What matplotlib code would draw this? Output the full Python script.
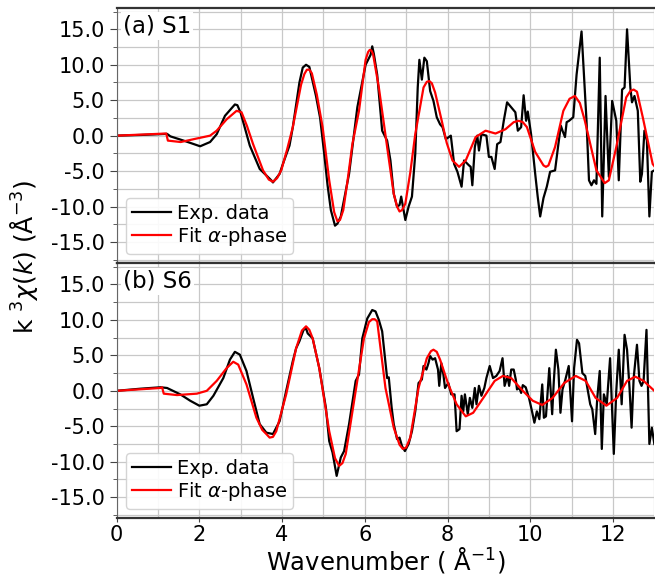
"""
k^3-weighted EXAFS chi(k) for S1 and S6 with alpha-phase fits.
Values read off the reference figure.
"""

import matplotlib
matplotlib.use("Agg")
import matplotlib.pyplot as plt
from matplotlib.ticker import MultipleLocator, FormatStrFormatter

plt.rcParams["font.family"] = ["DejaVu Sans"]
plt.rcParams["axes.unicode_minus"] = False

# ─────────────────────────────────────────────
# (a) S1 - experimental
k_s1_exp = [0, 0.6, 1.22, 1.3, 1.62, 2.02, 2.26, 2.42, 2.62, 2.86, 2.92, 3.0,
            3.22, 3.46, 3.74, 3.78, 3.94, 4.02, 4.18, 4.26, 4.42, 4.5, 4.58,
            4.66, 4.82, 4.92, 5.02, 5.1, 5.18, 5.28, 5.34, 5.42, 5.62, 5.82,
            6.02, 6.14, 6.18, 6.22, 6.3, 6.42, 6.54, 6.62, 6.7, 6.78, 6.84,
            6.88, 6.98, 7.06, 7.14, 7.22, 7.28, 7.32, 7.38, 7.44, 7.5, 7.58,
            7.66, 7.74, 7.82, 7.88, 7.96, 8.08, 8.16, 8.24, 8.34, 8.4, 8.52,
            8.56, 8.6, 8.66, 8.72, 8.76, 8.82, 8.94, 9.0, 9.06, 9.14, 9.2,
            9.28, 9.36, 9.44, 9.54, 9.64, 9.7, 9.78, 9.84, 9.9, 9.94, 10.02,
            10.12, 10.18, 10.24, 10.32, 10.4, 10.48, 10.6, 10.68, 10.74,
            10.78, 10.84, 10.88, 10.94, 11.04, 11.12, 11.24, 11.36, 11.42,
            11.48, 11.54, 11.6, 11.68, 11.74, 11.82, 11.9, 11.98, 12.08,
            12.14, 12.22, 12.28, 12.34, 12.42, 12.46, 12.52, 12.6, 12.66,
            12.7, 12.76, 12.82, 12.88, 12.94, 13.0]
chi_s1_exp = [0, 0.1, 0.25, -0.1, -0.7, -1.5, -0.9, 0.2, 2.8, 4.4, 4.3, 3.2,
              -1.4, -4.7, -6.3, -6.6, -5.4, -4.0, -1.4, 1.2, 7.5, 9.6, 10.0,
              9.7, 5.6, 2.5, -2.6, -7.0, -10.5, -12.7, -12.4, -11.4, -5.4, 4.0,
              10.0, 11.4, 12.6, 11.5, 8.6, 0.7, -0.7, -3.5, -8.2, -10.0, -9.8,
              -8.6, -11.9, -10.0, -8.6, -2.6, 6.8, 10.7, 7.9, 11.0, 10.5, 6.3,
              4.9, 2.6, 1.6, 1.2, -0.5, 0.0, -4.0, -5.1, -7.2, -3.5, -4.2,
              -4.4, -7.0, -1.6, 0.0, -2.1, 0.2, 0.0, -3.0, -3.0, -4.7, -1.2,
              -0.9, 2.1, 4.7, 4.0, 3.3, 0.7, 1.2, 5.7, 2.1, 3.4, 0.2,
              -5.4, -8.6, -11.4, -8.8, -7.2, -5.1, -4.9, -1.2, 1.4,
              0.7, -0.2, 1.9, 2.1, 2.6, 8.6, 14.7, 2.1, -6.3,
              -7.0, -6.3, -6.8, 11.0, -11.4, 5.6, -5.8, 4.9, 2.1,
              -6.3, 6.5, 6.8, 15.0, 6.8, 4.7, 5.6, 3.5, -6.5,
              -5.4, 0.7, -0.7, -11.4, -5.1, -4.9]

# (a) S1 - alpha-phase fit
k_s1_fit = [0, 1.2, 1.24, 1.55, 1.94, 2.26, 2.42, 2.66, 2.9, 3.02, 3.15, 3.3,
            3.54, 3.68, 3.78, 3.88, 3.98, 4.12, 4.26, 4.46, 4.54, 4.6, 4.66,
            4.72, 4.84, 4.98, 5.14, 5.26, 5.34, 5.4, 5.48, 5.58, 5.7, 5.86,
            6.02, 6.08, 6.12, 6.16, 6.2, 6.34, 6.54, 6.7, 6.78, 6.84, 6.9,
            6.98, 7.1, 7.22, 7.42, 7.5, 7.56, 7.62, 7.7, 7.86, 7.98, 8.12,
            8.28, 8.44, 8.68, 8.92, 9.16, 9.4, 9.6, 9.72, 9.82, 9.92, 10.12,
            10.32, 10.38, 10.44, 10.6, 10.8, 10.95, 11.08, 11.2, 11.32, 11.6,
            11.8, 11.9, 12.08, 12.32, 12.42, 12.5, 12.58, 12.72, 12.96, 13.0]
chi_s1_fit = [0, 0.3, -0.7, -0.9, -0.4, 0.0, 0.7, 2.3, 3.5, 3.3, 1.4, -1.2,
              -4.9, -6.2, -6.5, -6.0, -4.9, -2.0, 1.2, 7.2, 8.7, 9.3, 9.3,
              8.8, 5.8, 1.2, -6.3, -10.8, -12.1, -11.9, -10.5, -6.5, -1.2, 3.5,
              10.7, 11.8, 12.1, 12.0, 11.5, 6.8, -1.6, -8.2, -10.0, -10.7, -10.5,
              -9.6, -5.2, 0.2, 6.8, 7.6, 7.7, 7.4, 6.1, 2.1, -1.0, -3.5,
              -4.4, -3.5, -0.2, 0.7, 0.3, 0.9, 1.9, 2.1, 1.9, 1.2, -2.3,
              -4.2, -4.4, -4.2, -1.6, 3.5, 5.2, 5.6, 4.6, 2.1, -4.9,
              -6.7, -6.3, -1.6, 5.4, 6.3, 6.5, 6.2, 2.6, -4.0, -4.3]

# (b) S6 - experimental
k_s6_exp = [0, 0.58, 1.06, 1.22, 1.54, 1.78, 2.0, 2.18, 2.34, 2.58, 2.74, 2.86,
            2.98, 3.14, 3.3, 3.46, 3.62, 3.78, 3.94, 4.1, 4.26, 4.34, 4.42,
            4.52, 4.58, 4.62, 4.74, 4.9, 5.06, 5.14, 5.22, 5.32, 5.42, 5.5,
            5.62, 5.78, 5.86, 5.94, 6.06, 6.18, 6.26, 6.34, 6.42, 6.49, 6.54,
            6.58, 6.65, 6.7, 6.78, 6.84, 6.9, 6.97, 7.06, 7.14, 7.22, 7.3,
            7.38, 7.42, 7.49, 7.54, 7.58, 7.64, 7.7, 7.77, 7.8, 7.85, 7.9,
            7.94, 8.02, 8.09, 8.17, 8.22, 8.29, 8.34, 8.38, 8.42, 8.49, 8.54,
            8.6, 8.66, 8.7, 8.76, 8.82, 8.89, 8.94, 9.02, 9.1, 9.18, 9.26,
            9.33, 9.38, 9.45, 9.49, 9.54, 9.6, 9.65, 9.68, 9.74, 9.78, 9.82,
            9.89, 9.97, 10.05, 10.1, 10.16, 10.22, 10.29, 10.33, 10.38, 10.46,
            10.53, 10.57, 10.62, 10.68, 10.73, 10.78, 10.85, 10.93, 11.01,
            11.06, 11.13, 11.18, 11.26, 11.33, 11.38, 11.45, 11.5, 11.57,
            11.62, 11.68, 11.73, 11.78, 11.85, 11.93, 12.02, 12.08, 12.14,
            12.21, 12.28, 12.34, 12.4, 12.45, 12.5, 12.58, 12.64, 12.69,
            12.74, 12.81, 12.88, 12.94, 13.0]
chi_s6_exp = [0, 0.3, 0.5, 0.4, -0.5, -1.4, -2.1, -1.9, -0.7, 1.8, 4.4, 5.5,
              5.1, 2.8, -1.0, -4.7, -5.9, -6.1, -4.3, 0.0, 4.2, 6.0, 7.0,
              8.6, 8.8, 8.1, 7.4, 3.2, -2.4, -7.1, -8.7, -12.0, -9.4, -8.5,
              -4.7, 1.4, 2.3, 7.4, 10.2, 11.4, 11.2, 10.0, 8.4, 4.6, 1.8,
              1.9, -2.4, -4.7, -6.8, -6.6, -7.8, -8.5, -7.5, -5.7, -2.9, 1.1,
              1.6, 3.5, 3.0, 3.9, 4.9, 4.4, 4.6, 3.0, 0.7, 3.9, 2.3,
              0.4, 1.1, -0.5, -0.5, -5.7, -5.4, -0.7, -2.9, -0.5, -3.3, -1.0,
              -2.4, 0.4, -1.9, 0.7, -0.7, 0.4, 1.8, 3.5, 1.8, 2.1, 2.8,
              4.6, 0.7, 2.1, 0.7, 3.0, 3.0, 1.6, 0.2, 0.4, -0.3, 0.8,
              0.5, -1.0, -3.1, -4.5, -2.9, -4.0, 0.9, -3.8, -3.6, 3.2,
              -3.3, 1.4, 5.8, 3.0, -3.1, 0.2, 1.6, 3.5, -4.3,
              3.2, 7.2, 6.7, 2.5, 2.1, 0.4, -1.9, -2.6, -6.1,
              -1.0, 2.8, -8.2, -0.5, -1.9, 4.6, -8.9, 0.0, 5.8,
              -1.9, 7.9, 5.8, 0.4, -5.2, 1.8, 6.5, 1.4, 0.7,
              1.4, 8.6, -7.5, -5.2, -7.5]

# (b) S6 - alpha-phase fit
k_s6_fit = [0, 1.06, 1.1, 1.14, 1.46, 1.94, 2.18, 2.42, 2.66, 2.82, 2.94, 3.14,
            3.38, 3.52, 3.62, 3.7, 3.78, 3.86, 4.1, 4.34, 4.48, 4.58, 4.66,
            4.74, 4.9, 5.14, 5.28, 5.38, 5.46, 5.54, 5.78, 5.98, 6.1, 6.18,
            6.24, 6.3, 6.5, 6.7, 6.84, 6.92, 7.0, 7.1, 7.3, 7.5, 7.6, 7.66,
            7.74, 7.82, 8.02, 8.22, 8.44, 8.62, 8.9, 9.14, 9.34, 9.54, 9.82,
            10.06, 10.29, 10.54, 10.82, 11.1, 11.34, 11.58, 11.84, 12.1,
            12.34, 12.54, 12.74, 13.0]
chi_s6_fit = [0, 0.4, 0.5, -0.4, -0.6, -0.4, 0.0, 1.4, 3.2, 4.1, 3.7, 0.9,
              -3.8, -5.5, -6.1, -6.6, -6.5, -5.7, -0.5, 6.0, 8.5, 9.1, 8.6,
              7.4, 3.2, -5.7, -9.5, -10.6, -10.2, -8.9, 0.0, 7.4, 9.7, 10.1,
              10.1, 9.8, 0.4, -5.2, -7.6, -8.2, -8.0, -6.6, 0.4, 4.6, 5.6, 5.8,
              5.5, 4.4, 0.9, -1.9, -3.6, -3.1, -0.7, 1.4, 2.1, 1.8, 0.0,
              -1.4, -2.0, -1.0, 1.1, 2.1, 1.4, -1.0, -2.1, -1.0,
              1.4, 2.0, 1.4, 0.0]

panel_labels = ["(a) S1", "(b) S6"]
yticks = [-15, -10, -5, 0, 5, 10, 15]


fig, axes = plt.subplots(2, 1, figsize=(6.55, 5.76), dpi=100, sharex=True)
fig.subplots_adjust(left=0.178, right=0.999, top=0.986, bottom=0.1, hspace=0)

panels = [(k_s1_exp, chi_s1_exp, k_s1_fit, chi_s1_fit),
          (k_s6_exp, chi_s6_exp, k_s6_fit, chi_s6_fit)]

for ax, (ke, ce, kf, cf), lab in zip(axes, panels, panel_labels):
    ax.plot(ke, ce, color="black", lw=1.6, label="Exp. data")
    ax.plot(kf, cf, color="red", lw=1.6, label=r"Fit $\alpha$-phase")

    ax.set_xlim(0, 13)
    ax.set_ylim(-18, 18)
    ax.set_yticks(yticks)
    ax.yaxis.set_major_formatter(FormatStrFormatter("%.1f"))
    ax.yaxis.set_minor_locator(MultipleLocator(2.5))
    ax.xaxis.set_major_locator(MultipleLocator(2))
    ax.xaxis.set_minor_locator(MultipleLocator(1))
    ax.grid(which="both", color="#c8c8c8", lw=0.9)
    ax.set_axisbelow(True)
    ax.tick_params(axis="y", which="major", labelsize=15, length=5,
                   color="#444444")
    ax.tick_params(axis="y", which="minor", length=3, color="#444444")
    ax.tick_params(axis="x", which="major", labelsize=15, length=3, pad=1.5,
                   color="#444444")
    ax.tick_params(axis="x", which="minor", length=0)

    for side in ["top", "bottom"]:
        ax.spines[side].set_color("#333333")
        ax.spines[side].set_linewidth(1.6)
    ax.spines["left"].set_color("#666666")
    ax.spines["right"].set_visible(False)

    ax.text(0.012, 0.975, lab, transform=ax.transAxes, fontsize=16.5,
            va="top", ha="left",
            bbox=dict(facecolor="white", edgecolor="none", pad=1.5))
    ax.legend(loc="lower left", fontsize=14, handlelength=2.0,
              borderaxespad=0.5, framealpha=0.9, edgecolor="#d0d0d0",
              labelspacing=0.1, borderpad=0.3, handletextpad=0.3)

axes[1].set_xlabel("Wavenumber ( Å$^{-1}$)", fontsize=17.5, labelpad=0)
fig.text(0.037, 0.555, r"k $^{3}\chi(k)$ (Å$^{-3}$)", rotation=90,
         fontsize=18, ha="center", va="center")

plt.savefig("out.png", dpi=100)
